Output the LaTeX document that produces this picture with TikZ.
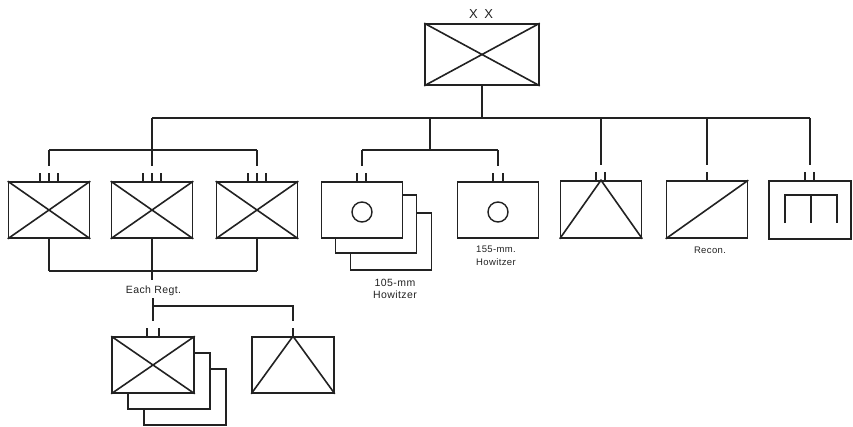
\documentclass[tikz,border=0pt]{standalone}
\usepackage{fontspec}
\setmainfont{Liberation Sans}
\newfontfamily\lblfont[LetterSpace=4]{Liberation Sans}
\definecolor{ink}{HTML}{222222}
\begin{document}
\begin{tikzpicture}[x=1pt,y=-1pt,
  ln/.style={line width=1.6pt, draw=ink},
  tick/.style={line width=1.5pt, draw=ink},
  unitbox/.style={draw=ink, line width=1.6pt, fill=white, rectangle, inner sep=0pt,
    minimum width=81pt, minimum height=56pt},
  ring/.style={draw=ink, line width=1.4pt, circle, inner sep=0pt, minimum size=20pt},
  lbl/.style={font=\lblfont\fontsize{10.5}{12}\selectfont, text=ink, inner sep=0pt, anchor=base},
  slbl/.style={font=\lblfont\fontsize{9.5}{12}\selectfont, text=ink, inner sep=0pt, anchor=base}]
\useasboundingbox (0,0) rectangle (853,426);

% ---- division
\node[unitbox, minimum width=114pt, minimum height=61pt] (div) at (482,54.5) {};
\node[font=\fontsize{13}{15}\selectfont, text=ink, anchor=base, inner sep=0pt] (xx) at (481,18.5) {X\hspace{6.5pt}X};
\draw[ln] (div.north west) -- (div.south east) (div.north east) -- (div.south west);

% ---- first row
\node[unitbox] (r1) at (49,210) {};
\node[unitbox] (r2) at (152,210) {};
\node[unitbox] (r3) at (257,210) {};
\foreach \n in {r1,r2,r3}
  \draw[ln] (\n.north west) -- (\n.south east) (\n.north east) -- (\n.south west);

\node[unitbox, minimum height=57pt] (h105c) at (391,241.5) {};
\node[unitbox, minimum height=58pt] (h105b) at (376,224) {};
\node[unitbox] (h105) at (362,210) {};
\node[ring] (c105) at ([yshift=-2pt]h105.center) {};
\node[unitbox] (h155) at (498,210) {};
\node[ring] (c155) at ([yshift=-2pt]h155.center) {};

\node[unitbox, minimum height=57pt] (atk) at (601,209.5) {};
\draw[ln] (atk.south west) -- (atk.north) -- (atk.south east);
\node[unitbox, minimum height=57pt] (recon) at (707,209.5) {};
\draw[ln] (recon.south west) -- (recon.north east);
\node[unitbox, minimum width=82pt, minimum height=58pt] (eng) at (810,210) {};
\coordinate (e1) at ([xshift=-25pt,yshift=15pt]eng.center);
\coordinate (e2) at ([xshift=1pt,yshift=15pt]eng.center);
\coordinate (e3) at ([xshift=27pt,yshift=15pt]eng.center);
\draw[ln] ([yshift=-28pt]e1) -- (e1) -- (e3) -- ([yshift=-28pt]e3);
\draw[ln] (e2) -- ([yshift=-28pt]e2);

% ---- connectors of the division
\coordinate (bus) at (0,118);
\coordinate (rbus) at (0,150);
\coordinate (ahub) at (430,118);
\draw[ln] (div.south) -- (div.south |- bus);
\draw[ln] (r2.north |- bus) -- (eng.north |- bus);
\draw[ln] (r2.north |- bus) -- ([yshift=15pt]r2.north);
\draw[ln] (r1.north |- rbus) -- (r3.north |- rbus);
\draw[ln] (r1.north |- rbus) -- ([yshift=15pt]r1.north);
\draw[ln] (r3.north |- rbus) -- ([yshift=15pt]r3.north);
\draw[ln] (ahub) -- (ahub |- rbus);
\draw[ln] (h105.north |- rbus) -- (h155.north |- rbus);
\draw[ln] (h105.north |- rbus) -- ([yshift=15pt]h105.north);
\draw[ln] (h155.north |- rbus) -- ([yshift=15pt]h155.north);
\foreach \n in {atk,recon,eng}
  \draw[ln] (\n.north |- bus) -- ([yshift=15pt]\n.north);

% ---- echelon ticks
\foreach \n in {r1,r2,r3}
  \foreach \o in {-9,0,9}
    \draw[tick] ([xshift=\o]\n.north) -- ++(0,-8);
\foreach \n in {h105,atk,eng}
  \foreach \o in {-5,4}
    \draw[tick] ([xshift=\o]\n.north) -- ++(0,-8);
\foreach \o in {-5,5}
  \draw[tick] ([xshift=\o]h155.north) -- ++(0,-8);
\draw[tick] (recon.north) -- ++(0,-8);

% ---- labels
\node[slbl] (l155a) at (496,252) {155-mm.};
\node[slbl] (l155b) at (496,265.5) {Howitzer};
\node[lbl] (l105a) at (395,286.5) {105-mm};
\node[lbl] (l105b) at (395,298) {Howitzer};
\node[slbl] (lrec) at (710,253) {Recon.};
\node[lbl] (each) at (153.5,293) {Each Regt.};

% ---- regiment detail
\node[unitbox, minimum width=82pt] (bb3) at (185,397) {};
\node[unitbox, minimum width=82pt] (bb2) at (169,381) {};
\node[unitbox, minimum width=82pt] (bb) at (153,365) {};
\draw[ln] (bb.north west) -- (bb.south east) (bb.north east) -- (bb.south west);
\node[unitbox, minimum width=82pt] (bt) at (293,365) {};
\draw[ln] (bt.south west) -- (bt.north) -- (bt.south east);

\coordinate (lbus) at (0,271);
\coordinate (sbus) at (0,306);
\foreach \n in {r1,r2,r3}
  \draw[ln] (\n.south) -- (\n.south |- lbus);
\draw[ln] (r1.south |- lbus) -- (r3.south |- lbus);
\draw[ln] (r2.south |- lbus) -- (r2.south |- 0,280);
\draw[ln] (bb.north |- 0,298) -- ([yshift=15pt]bb.north);
\draw[ln] (bb.north |- sbus) -- (bt.north |- sbus) -- ([yshift=15pt]bt.north);
\foreach \o in {-6,6}
  \draw[tick] ([xshift=\o]bb.north) -- ++(0,-8);
\draw[tick] (bt.north) -- ++(0,-8);
\end{tikzpicture}
\end{document}
